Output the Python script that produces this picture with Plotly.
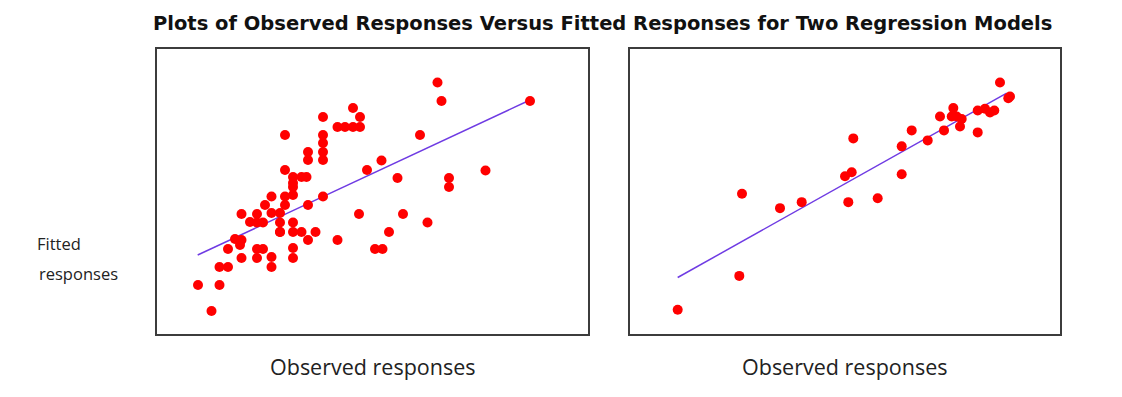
import plotly.graph_objects as go

# ---- data (arbitrary response units) ----
obs_left = [4.1, 5.45, 6.25, 6.25, 7.1, 7.1, 7.8, 8.3, 8.45, 8.45, 8.45, 9.3, 10.0, 10.0, 10.6,
            10.0, 10.6, 10.0, 10.8, 11.45, 11.45, 11.45, 11.45, 12.3, 12.3, 12.3, 12.8, 12.8,
            13.6, 13.6, 13.6, 13.6, 13.6, 13.6, 14.45, 15.1, 15.1, 15.85, 16.6, 18.05, 20.2,
            12.8, 12.8, 13.6, 14.45, 14.95, 13.6, 15.1, 15.1, 16.6, 16.6, 16.6, 16.6, 16.6,
            18.05, 18.8, 19.6, 20.3, 19.6, 20.3, 21.0, 28.05, 28.45, 37.3, 26.3, 22.45, 24.05,
            29.2, 29.2, 32.85, 24.6, 27.05, 23.2, 21.8, 22.55, 12.3]
fit_left = [4.9, 2.3, 4.9, 6.7, 6.7, 8.5, 9.5, 8.9, 7.6, 12.0, 9.4, 11.2, 12.0, 11.15, 11.15,
            8.5, 8.5, 7.6, 12.9, 13.75, 12.1, 7.7, 6.7, 12.1, 11.15, 10.2, 12.9, 13.75,
            15.1, 13.9, 11.15, 10.2, 8.6, 7.6, 10.2, 12.9, 9.4, 10.2, 13.75, 9.4, 12.0,
            19.9, 16.4, 15.7, 15.7, 15.7, 14.7, 18.2, 17.4, 21.7, 19.9, 19.1, 18.2, 17.4,
            20.7, 20.7, 20.7, 20.7, 22.6, 21.7, 16.4, 25.15, 23.3, 23.3, 19.9, 17.35, 15.6,
            15.6, 14.7, 16.35, 12.0, 11.15, 10.2, 8.5, 8.5, 10.2]
line_left_x = [4.07, 37.3]
line_left_y = [7.9, 23.4]

obs_right = [4.77, 10.93, 11.2, 15.0, 17.17, 21.5, 22.17, 21.83, 22.33, 24.77, 27.17, 27.17,
             28.17, 29.77, 31.0, 31.4, 32.33, 32.17, 32.67, 33.17, 33.0, 34.77, 34.77, 35.5,
             36.0, 36.43, 37.0, 37.83, 38.0]
fit_right = [2.43, 5.83, 14.07, 12.63, 13.23, 15.83, 16.23, 13.23, 19.63, 13.63, 16.03, 18.83,
             20.43, 19.43, 21.83, 20.43, 22.67, 21.83, 21.83, 21.57, 20.83, 20.23, 22.43, 22.6,
             22.23, 22.43, 25.23, 23.67, 23.83]
line_right_x = [4.77, 37.67]
line_right_y = [5.67, 24.17]

title_text = "Plots of Observed Responses Versus Fitted Responses for Two Regression Models"
x_label = "Observed responses"
y_label_lines = ["Fitted", "responses"]

# ---- style ----
RED = "#FF0000"
LINE = "#6F3BE3"
FRAME = "#3C3C3C"

fig = go.Figure()
fig.add_trace(go.Scatter(x=line_left_x, y=line_left_y, mode="lines",
                         line=dict(color=LINE, width=1.5), xaxis="x", yaxis="y",
                         hoverinfo="skip"))
fig.add_trace(go.Scatter(x=obs_left, y=fit_left, mode="markers",
                         marker=dict(color=RED, size=10), xaxis="x", yaxis="y"))
fig.add_trace(go.Scatter(x=line_right_x, y=line_right_y, mode="lines",
                         line=dict(color=LINE, width=1.5), xaxis="x2", yaxis="y2",
                         hoverinfo="skip"))
fig.add_trace(go.Scatter(x=obs_right, y=fit_right, mode="markers",
                         marker=dict(color=RED, size=10), xaxis="x2", yaxis="y2"))

OFF = 8  # page body margin in the browser
W, H = 1122 - 2 * OFF, 397 - 2 * OFF


def px(x):
    return (x - OFF) / W


def py(y):
    return 1 - (y - OFF) / H


ydom = [py(334), py(49)]
axis_common = dict(showline=True, mirror=True, linecolor=FRAME, linewidth=2,
                   showgrid=False, zeroline=False, showticklabels=False, ticks="",
                   fixedrange=True)

label_font = dict(family="Open Sans, DejaVu Sans", size=21.5, color="#222222")
ylab_font = dict(family="Open Sans, DejaVu Sans", size=16.5, color="#222222")

fig.update_layout(
    width=W, height=H, autosize=False,
    margin=dict(l=0, r=0, t=0, b=0),
    paper_bgcolor="white", plot_bgcolor="white",
    showlegend=False,
    xaxis=dict(domain=[px(157), px(588)], range=[0, 43.1], anchor="y", **axis_common),
    yaxis=dict(domain=ydom, range=[0, 28.5], anchor="x", **axis_common),
    xaxis2=dict(domain=[px(630), px(1060)], range=[0, 43.0], anchor="y2", **axis_common),
    yaxis2=dict(domain=ydom, range=[0, 28.6], anchor="x2", **axis_common),
    annotations=[
        dict(text="<b>" + title_text + "</b>", x=px(602), y=py(23), xref="paper",
             yref="paper", showarrow=False, xanchor="center", yanchor="middle",
             font=dict(family="DejaVu Sans", size=19.5, color="#111111")),
        dict(text=x_label, x=px(372), y=py(366), xref="paper", yref="paper",
             showarrow=False, xanchor="center", yanchor="middle", font=label_font),
        dict(text=x_label, x=px(844), y=py(366), xref="paper", yref="paper",
             showarrow=False, xanchor="center", yanchor="middle", font=label_font),
        dict(text=y_label_lines[0], x=px(35), y=py(243), xref="paper", yref="paper",
             showarrow=False, xanchor="left", yanchor="middle", font=ylab_font),
        dict(text=y_label_lines[1], x=px(37), y=py(273), xref="paper", yref="paper",
             showarrow=False, xanchor="left", yanchor="middle", font=ylab_font),
    ],
)

fig.write_html("out.html")
